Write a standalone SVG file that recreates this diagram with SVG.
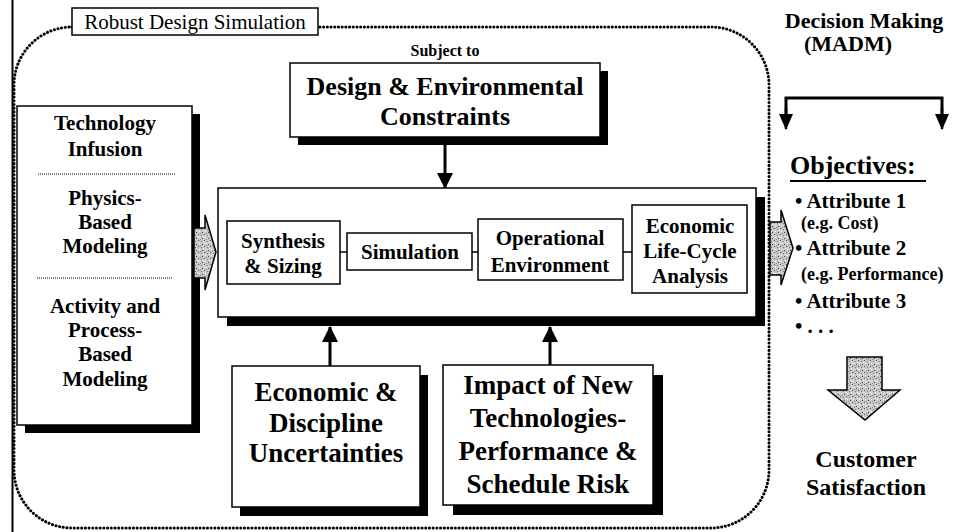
<svg xmlns="http://www.w3.org/2000/svg" width="956" height="532" viewBox="0 0 956 532">
<defs>
<style>
.box{fill:#fff;stroke:#000;stroke-width:1.5}
.sh{fill:#000}
.b{font-family:"Liberation Serif","Times New Roman",serif;font-weight:bold;fill:#000;text-anchor:middle}
.r{font-family:"Liberation Serif","Times New Roman",serif;fill:#000;text-anchor:middle}
.l{font-family:"Liberation Serif","Times New Roman",serif;font-weight:bold;fill:#000}
.ln{stroke:#000;stroke-width:3;fill:none}
.thin{stroke:#000;stroke-width:1.5;fill:none}
.sep{stroke:#000;stroke-width:1;stroke-dasharray:1 1;fill:none}
.dot{fill:none;stroke:#000;stroke-width:3;stroke-linecap:round;stroke-dasharray:0.1 3.6}
.gray{fill:url(#speckle);stroke:#000;stroke-width:1.5}
</style>
<pattern id="speckle" width="6" height="6" patternUnits="userSpaceOnUse">
<rect width="6" height="6" fill="#c8c8c8"/>
<rect x="0" y="0" width="1" height="1" fill="#555"/>
<rect x="3" y="1" width="1" height="1" fill="#777"/>
<rect x="1" y="3" width="1" height="1" fill="#fff"/>
<rect x="4" y="4" width="1" height="1" fill="#444"/>
<rect x="5" y="2" width="1" height="1" fill="#eee"/>
<rect x="2" y="5" width="1" height="1" fill="#888"/>
</pattern>
<marker id="ah" viewBox="0 0 16 16" markerUnits="userSpaceOnUse" markerWidth="16" markerHeight="17" refX="15" refY="8" orient="auto">
<path d="M0,0 L16,8 L0,16 z" fill="#000"/>
</marker>
<marker id="ahs" viewBox="0 0 16 14" markerUnits="userSpaceOnUse" markerWidth="16" markerHeight="15" refX="15" refY="7" orient="auto">
<path d="M0,0 L16,7 L0,14 z" fill="#000"/>
</marker>
</defs>
<rect width="956" height="532" fill="#fff"/>

<g id="frame">
<line x1="12.5" y1="0" x2="12.5" y2="532" stroke="#000" stroke-width="2"/>
<rect class="dot" x="14" y="27" width="755" height="501" rx="58" ry="58"/>
</g>

<g id="label-rds">
<rect class="box" x="72" y="8" width="246" height="27" stroke-width="1.2"/>
<text class="r" x="195" y="29" font-size="21">Robust Design Simulation</text>
</g>

<g id="subject-to">
<text class="b" x="445" y="56" font-size="16">Subject to</text>
</g>

<g id="constraints">
<rect class="sh" x="298" y="71" width="310" height="74"/>
<rect class="box" x="290" y="63" width="310" height="74"/>
<text class="b" x="445" y="95" font-size="26">Design &amp; Environmental</text>
<text class="b" x="445" y="125" font-size="26">Constraints</text>
</g>

<g id="left-box">
<rect class="sh" x="25" y="114" width="175" height="319"/>
<rect class="box" x="17" y="106" width="175" height="319"/>
<text class="b" x="105" y="130" font-size="21">Technology</text>
<text class="b" x="105" y="156" font-size="21">Infusion</text>
<line class="sep" x1="38" y1="174" x2="175" y2="174"/>
<text class="b" x="105" y="205" font-size="21">Physics-</text>
<text class="b" x="105" y="229" font-size="21">Based</text>
<text class="b" x="105" y="253" font-size="21">Modeling</text>
<line class="sep" x1="37" y1="278" x2="172" y2="278"/>
<text class="b" x="105" y="313" font-size="21">Activity and</text>
<text class="b" x="105" y="337" font-size="21">Process-</text>
<text class="b" x="105" y="361" font-size="21">Based</text>
<text class="b" x="105" y="386" font-size="21">Modeling</text>
</g>

<g id="arrow-in">
<polygon class="gray" points="194,228 205,228 205,215 216,252 205,290 205,278 194,278"/>
</g>

<g id="main-box">
<rect class="sh" x="227" y="197" width="538" height="129"/>
<rect class="box" x="218" y="188" width="538" height="129"/>
</g>

<g id="synthesis">
<rect class="box" x="227" y="221" width="113" height="63"/>
<text class="b" x="283" y="248" font-size="21">Synthesis</text>
<text class="b" x="283" y="273" font-size="21">&amp; Sizing</text>
</g>

<g id="simulation">
<rect class="box" x="347" y="233" width="125" height="37"/>
<text class="b" x="410" y="259" font-size="21">Simulation</text>
</g>

<g id="operational">
<rect class="box" x="478" y="219" width="145" height="61"/>
<text class="b" x="550" y="245" font-size="21">Operational</text>
<text class="b" x="550" y="272" font-size="21">Environment</text>
</g>

<g id="economic-lca">
<rect class="box" x="632" y="205" width="115" height="88"/>
<text class="b" x="690" y="233" font-size="21">Economic</text>
<text class="b" x="690" y="258" font-size="21">Life-Cycle</text>
<text class="b" x="690" y="283" font-size="21">Analysis</text>
</g>

<g id="econ-uncert">
<rect class="sh" x="240" y="375" width="188" height="141"/>
<rect class="box" x="232" y="366" width="188" height="141"/>
<text class="b" x="326" y="401" font-size="27">Economic &amp;</text>
<text class="b" x="326" y="432" font-size="27">Discipline</text>
<text class="b" x="326" y="462" font-size="27">Uncertainties</text>
</g>

<g id="impact">
<rect class="sh" x="453" y="375" width="210" height="140"/>
<rect class="box" x="443" y="365" width="210" height="140"/>
<text class="b" x="548" y="394" font-size="27">Impact of New</text>
<text class="b" x="548" y="427" font-size="27">Technologies-</text>
<text class="b" x="548" y="460" font-size="27">Performance &amp;</text>
<text class="b" x="548" y="493" font-size="27">Schedule Risk</text>
</g>

<g id="arrow-out">
<polygon class="gray" points="770,222 781,222 781,210 793,248 781,285 781,275 770,275"/>
</g>

<g id="decision">
<text class="b" x="864" y="28" font-size="22">Decision Making</text>
<text class="b" x="848" y="51" font-size="22">(MADM)</text>
</g>

<g id="objectives">
<text class="l" x="790" y="174" font-size="26">Objectives:</text>
<line x1="790" y1="181" x2="926" y2="181" stroke="#000" stroke-width="2"/>
<text class="l" x="795" y="208" font-size="21">• Attribute 1</text>
<text class="l" x="801" y="229" font-size="18">(e.g. Cost)</text>
<text class="l" x="795" y="255" font-size="21">• Attribute 2</text>
<text class="l" x="801" y="280" font-size="18">(e.g. Performance)</text>
<text class="l" x="795" y="308" font-size="21">• Attribute 3</text>
<text class="l" x="795" y="333" font-size="21">• . . .</text>
</g>

<g id="arrow-down">
<polygon class="gray" points="847,357 882,357 882,390 900,390 865,420 828,390 847,390" stroke-width="2.5"/>
</g>

<g id="customer">
<text class="b" x="866" y="467" font-size="24">Customer</text>
<text class="b" x="866" y="495" font-size="24">Satisfaction</text>
</g>

<g id="connectors">
<line class="ln" x1="445" y1="145" x2="445" y2="188" marker-end="url(#ah)"/>
<line class="ln" x1="330" y1="366" x2="330" y2="327" marker-end="url(#ah)"/>
<line class="ln" x1="550" y1="365" x2="550" y2="327" marker-end="url(#ah)"/>
<line class="thin" x1="340" y1="252" x2="347" y2="252"/>
<line class="thin" x1="472" y1="252" x2="478" y2="252"/>
<line class="thin" x1="623" y1="252" x2="632" y2="252"/>
<polyline class="ln" points="786,120 786,98 942,98 942,120" stroke-width="2.5"/>
<line x1="786" y1="108" x2="786" y2="129" stroke="#000" stroke-width="2.5" marker-end="url(#ahs)"/>
<line x1="942" y1="108" x2="942" y2="129" stroke="#000" stroke-width="2.5" marker-end="url(#ahs)"/>
</g>
</svg>
